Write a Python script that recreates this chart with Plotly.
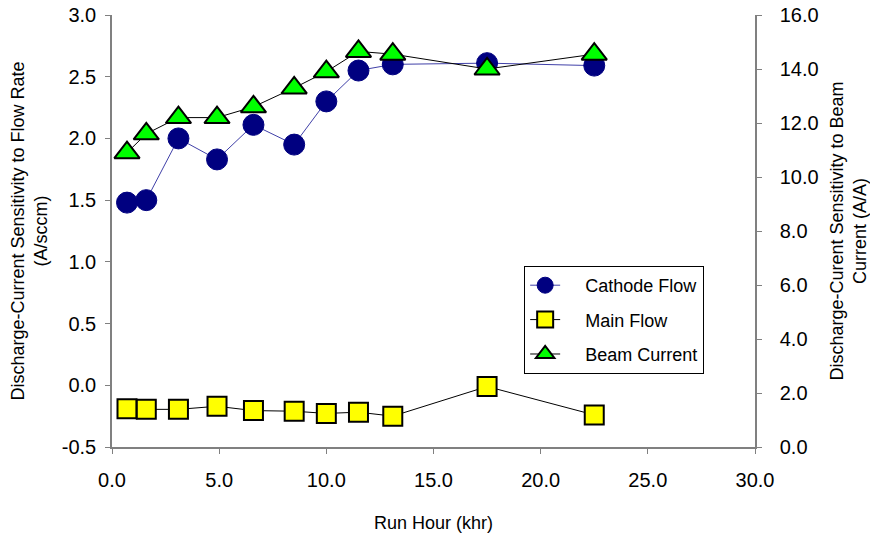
import plotly.graph_objects as go

run_hour = [0.7, 1.6, 3.1, 4.9, 6.6, 8.5, 10.0, 11.5, 13.1, 17.5, 22.5]
cathode_flow = [1.48, 1.50, 2.00, 1.83, 2.11, 1.95, 2.30, 2.55, 2.60, 2.61, 2.59]
main_flow = [-0.19, -0.195, -0.195, -0.17, -0.205, -0.21, -0.228, -0.218, -0.25, -0.01, -0.24]
beam_current = [10.9, 11.6, 12.2, 12.2, 12.6, 13.3, 13.9, 14.65, 14.55, 14.0, 14.55]

x_ticks = [0, 5, 10, 15, 20, 25, 30]
y1_ticks = [-0.5, 0.0, 0.5, 1.0, 1.5, 2.0, 2.5, 3.0]
y2_ticks = [0, 2, 4, 6, 8, 10, 12, 14, 16]

FONT = "Liberation Sans, Arial, sans-serif"
PAD = "\u00a0" * 4

fig = go.Figure()
fig.add_trace(go.Scatter(
    x=run_hour, y=cathode_flow, name=PAD + "Cathode Flow", mode="lines+markers",
    legendgroup="a",
    line=dict(color="#4040a8", width=1),
    marker=dict(symbol="circle", size=21, color="#000080", line=dict(color="#000080", width=1)),
))
fig.add_trace(go.Scatter(
    x=run_hour, y=main_flow, name=PAD + "Main Flow", mode="lines+markers",
    legendgroup="b",
    line=dict(color="black", width=1),
    marker=dict(symbol="square", size=19, color="#ffff00", line=dict(color="black", width=2)),
))
fig.add_trace(go.Scatter(
    x=run_hour, y=beam_current, name=PAD + "Beam Current", mode="lines+markers", yaxis="y2",
    legendgroup="c",
    line=dict(color="black", width=1),
    marker=dict(symbol="triangle-up", size=22, color="#00ff00", line=dict(color="black", width=2)),
))

axis_common = dict(showgrid=False, zeroline=False, showline=True, linecolor="#808080",
                   linewidth=1.5, ticks="outside", tickcolor="#808080", ticklen=5,
                   automargin=False, ticklabeloverflow="allow",
                   tickfont=dict(family=FONT, size=20, color="black"))

fig.update_layout(
    width=870, height=535,
    margin=dict(l=112, r=115, t=15, b=88),
    paper_bgcolor="white", plot_bgcolor="white",
    font=dict(family=FONT, color="black"),
    xaxis=dict(range=[0, 30], tickvals=x_ticks, ticktext=[f"{v:.1f}" for v in x_ticks],
               ticklabelstandoff=9,
               title=dict(text="Run Hour (khr)", font=dict(family=FONT, size=18), standoff=27),
               **axis_common),
    yaxis=dict(range=[-0.5, 3.0], tickvals=y1_ticks, ticktext=[f"{v:.1f}" for v in y1_ticks],
               ticklabelstandoff=5,
               title=dict(text="Discharge-Current Sensitivity to Flow Rate<br>(A/sccm)",
                          font=dict(family=FONT, size=18), standoff=9),
               **axis_common),
    yaxis2=dict(range=[0, 16], tickvals=y2_ticks, ticktext=[f"{v:.1f}" for v in y2_ticks],
                overlaying="y", side="right", ticklabelstandoff=14,
                title=dict(text="Discharge-Curent Sensitivity to Beam<br>Current (A/A)",
                           font=dict(family=FONT, size=18), standoff=23),
                **axis_common),
    legend=dict(x=0.641, y=0.419, xanchor="left", yanchor="top",
                bgcolor="white", bordercolor="black", borderwidth=1,
                font=dict(family=FONT, size=18), tracegroupgap=8),
    showlegend=True,
)

fig.write_html("out.html",
               config={"displayModeBar": False},
               post_script="document.body.style.margin='0';document.body.style.overflow='hidden';")
